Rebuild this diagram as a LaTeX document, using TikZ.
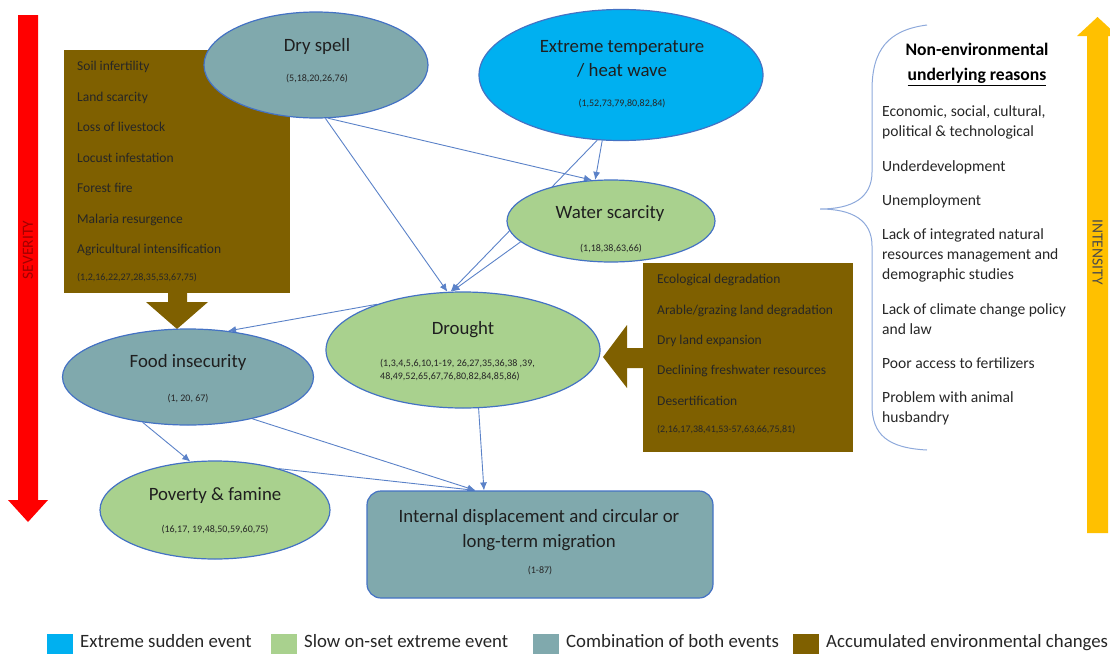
\documentclass[tikz,border=0pt]{standalone}
\usepackage{fontspec}
\setmainfont{Carlito}
\usetikzlibrary{arrows.meta,shapes.geometric,backgrounds}
\definecolor{cteal}{HTML}{80A9AD}
\definecolor{cgreen}{HTML}{A9D18E}
\definecolor{cblue}{HTML}{00B0F0}
\definecolor{cbrown}{HTML}{7F6000}
\definecolor{cred}{HTML}{FF0000}
\definecolor{cyellow}{HTML}{FFC000}
\definecolor{cborder}{HTML}{4472C4}
\definecolor{cconn}{HTML}{5B82C8}
\definecolor{cbrace}{HTML}{8EA9DB}
\definecolor{csevtext}{HTML}{A00000}
\begin{document}
\begin{tikzpicture}[x=1pt,y=-1pt,
  ell/.style={ellipse, draw=cborder, line width=1.2pt, inner sep=0pt},
  ttl/.style={font=\fontsize{18.8}{22}\selectfont, text=black!88, anchor=mid, inner sep=0pt, yshift=-3.5pt},
  refs/.style={font=\fontsize{10}{12}\selectfont, text=black!85, anchor=mid, inner sep=0pt, yshift=-2pt},
  refw/.style={font=\fontsize{10}{12}\selectfont, text=black!85, anchor=mid west, inner sep=0pt, yshift=-2pt},
  bitem/.style={font=\fontsize{13.5}{16}\selectfont, text=black!85, anchor=mid west, inner sep=0pt, yshift=-3pt},
  ritem/.style={font=\fontsize{15.6}{20}\selectfont, text=black!85, anchor=mid west, inner sep=0pt, yshift=-3pt},
  rhead/.style={font=\fontsize{17.6}{22}\selectfont\bfseries, text=black, anchor=mid, inner sep=0pt, yshift=-3.5pt},
  legtext/.style={font=\fontsize{18.8}{22}\selectfont, text=black!85, anchor=base west, inner sep=0pt},
  brownbox/.style={rectangle, fill=cbrown, inner sep=0pt},
  conn/.style={draw=cconn, line width=0.9pt, -{Latex[length=8pt,width=7pt]}}
]
\useasboundingbox (0,0) rectangle (1110,653);
\clip (0,0) rectangle (1110,653);

% severity arrow
\fill[cred] (18,15) -- (38,15) -- (38,500) -- (48,500) -- (28,522) -- (8,500) -- (18,500) -- cycle;
\node[rotate=90, font=\fontsize{15.5}{18}\selectfont, text=csevtext, inner sep=0pt] (sev) at (28,250) {SEVERITY};

% intensity arrow
\fill[cyellow] (1087,533) -- (1087,36) -- (1077,36) -- (1097.5,17) -- (1118,36) -- (1108,36) -- (1108,533) -- cycle;
\node[rotate=-90, font=\fontsize{15.5}{18}\selectfont, text=black!70, inner sep=0pt] (int) at (1097.5,252) {INTENSITY};

% brown box 1
\node[brownbox, minimum width=226pt, minimum height=243pt] (box1) at (177,171.5) {};
\fill[cbrown] (168,292) -- (187,292) -- (187,302) -- (208,302) -- (177,329) -- (146,302) -- (168,302) -- cycle;
\node[bitem] (b1a) at (77,65) {Soil infertility};
\node[bitem] (b1b) at (77,96) {Land scarcity};
\node[bitem] (b1c) at (77,126) {Loss of livestock};
\node[bitem] (b1d) at (77,157) {Locust infestation};
\node[bitem] (b1e) at (77,187) {Forest fire};
\node[bitem] (b1f) at (77,218) {Malaria resurgence};
\node[bitem] (b1g) at (77,248) {Agricultural intensification};
\node[refw] (b1r) at (77,276) {(1,2,16,22,27,28,35,53,67,75)};

% brown box 2
\node[brownbox, minimum width=210pt, minimum height=189pt] (box2) at (748,357.5) {};
\fill[cbrown] (644,348) -- (627,348) -- (627,325) -- (603,357) -- (627,388) -- (627,368) -- (644,368) -- cycle;
\node[bitem] (b2a) at (657,278) {Ecological degradation};
\node[bitem] (b2b) at (657,309) {Arable/grazing land degradation};
\node[bitem] (b2c) at (657,339) {Dry land expansion};
\node[bitem] (b2d) at (657,369) {Declining freshwater resources};
\node[bitem] (b2e) at (657,400) {Desertification};
\node[refw] (b2r) at (657,428) {(2,16,17,38,41,53-57,63,66,75,81)};

% ellipses
\node[ell, fill=cteal, minimum width=224pt, minimum height=106pt] (dry) at (316,65) {};
\node[ttl] (dryT) at (317,46) {Dry spell};
\node[refs] (dryR) at (317,77) {(5,18,20,26,76)};

\node[ell, fill=cblue, minimum width=284pt, minimum height=131pt] (ext) at (621,75) {};
\node[ttl] (extT1) at (622,47) {Extreme temperature};
\node[ttl] (extT2) at (622,71) {/ heat wave};
\node[refs] (extR) at (622,102) {(1,52,73,79,80,82,84)};

\node[ell, fill=cgreen, minimum width=208pt, minimum height=82pt] (wat) at (611,221) {};
\node[ttl] (watT) at (610,213) {Water scarcity};
\node[refs] (watR) at (611,247) {(1,18,38,63,66)};

\node[ell, fill=cgreen, minimum width=274pt, minimum height=116pt] (dro) at (463,350) {};
\node[ttl] (droT) at (463,329) {Drought};
\node[refw] (droR1) at (380,362) {(1,3,4,5,6,10,1-19, 26,27,35,36,38 ,39,};
\node[refw] (droR2) at (380,375) {48,49,52,65,67,76,80,82,84,85,86)};

\node[ell, fill=cteal, minimum width=251pt, minimum height=96pt] (food) at (188,377) {};
\node[ttl] (foodT) at (188,362) {Food insecurity};
\node[refs] (foodR) at (188,397) {(1, 20, 67)};

\node[ell, fill=cgreen, minimum width=230pt, minimum height=98pt] (pov) at (215,510) {};
\node[ttl] (povT) at (215,495) {Poverty \& famine};
\node[refs] (povR) at (215,528) {(16,17, 19,48,50,59,60,75)};

\node[rectangle, rounded corners=14pt, draw=cborder, line width=1.2pt, fill=cteal, minimum width=346pt, minimum height=107pt, inner sep=0pt] (mig) at (540,544.5) {};
\node[ttl] (migT1) at (539,517) {Internal displacement and circular or};
\node[ttl] (migT2) at (539,542) {long-term migration};
\node[refs] (migR) at (540,569) {(1-87)};

% connectors
\begin{pgfonlayer}{background}
\draw[conn] (dry.-80.4) -- (dro.105);
\draw[conn] (dry.-77.5) -- (wat.115.4);
\draw[conn] (ext.-106.3) -- (wat.111.8);
\draw[conn] (ext.-110.6) -- (dro.102.6);
\draw[conn] (wat.-167.5) -- (dro.101);
\draw[conn] (dro.152.9) -- (food.49.6);
\draw[conn] (food.-135.6) -- (pov.117);
\draw[conn] (food.-33.9) -- (mig.140.5);
\draw[conn] (pov.33.5) -- (mig.140.5);
\draw[conn] (dro.-75.5) -- (mig.136.8);
\end{pgfonlayer}

% brace
\draw[cbrace, line width=1pt] (927,25) .. controls (888,30) and (872,50) .. (872,90) -- (872,172) .. controls (872,198) and (852,209) .. (820,209) .. controls (852,209) and (872,220) .. (872,246) -- (872,405) .. controls (872,435) and (888,448) .. (927,450);

% right column
\node[rhead] (rh1) at (977,50) {Non-environmental};
\node[rhead] (rh2) at (977,75) {\underline{underlying reasons}};
\node[ritem] (r1a) at (882,111) {Economic, social, cultural,};
\node[ritem] (r1b) at (882,131) {political \& technological};
\node[ritem] (r2) at (882,166) {Underdevelopment};
\node[ritem] (r3) at (882,200) {Unemployment};
\node[ritem] (r4a) at (882,234) {Lack of integrated natural};
\node[ritem] (r4b) at (882,254) {resources management and};
\node[ritem] (r4c) at (882,274) {demographic studies};
\node[ritem] (r5a) at (882,309) {Lack of climate change policy};
\node[ritem] (r5b) at (882,329) {and law};
\node[ritem] (r6) at (882,363) {Poor access to fertilizers};
\node[ritem] (r7a) at (882,397) {Problem with animal};
\node[ritem] (r7b) at (882,417) {husbandry};

% legend
\fill[cblue] (47,634) rectangle (73,654);
\node[legtext] (l1) at (80,647.5) {Extreme sudden event};
\fill[cgreen] (271,634) rectangle (297,654);
\node[legtext] (l2) at (304,647.5) {Slow on-set extreme event};
\fill[cteal] (533,634) rectangle (559,654);
\node[legtext] (l3) at (566,647.5) {Combination of both events};
\fill[cbrown] (793,634) rectangle (819,654);
\node[legtext] (l4) at (826,647.5) {Accumulated environmental changes};
\end{tikzpicture}
\end{document}
